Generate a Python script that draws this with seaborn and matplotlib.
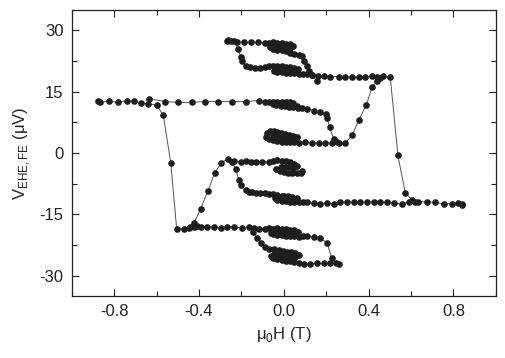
import numpy as np
import pandas as pd
import seaborn as sns
import matplotlib.pyplot as plt
from matplotlib.ticker import MultipleLocator

# ---- data (field in T, voltage in uV) ----
# P1: +12.6 branch from negative field, switch at -0.55 T, bottom minor loop
p1_x = [-0.875, -0.866, -0.824, -0.781, -0.74, -0.706, -0.675, -0.64, -0.60, -0.568, -0.533, -0.505,
        -0.471, -0.447, -0.424, -0.408, -0.392, -0.361, -0.33, -0.298, -0.267, -0.235, -0.196, -0.165,
        -0.141, -0.115, -0.09, -0.07, -0.05, -0.03, -0.01, 0.01, 0.03, 0.05, 0.065, 0.055, 0.035, 0.015,
        -0.005, -0.025, -0.045, -0.06, -0.05, -0.03, -0.01, 0.01, 0.03, 0.05, 0.07, 0.09, 0.11, 0.141,
        0.172, 0.204, 0.227, 0.245, 0.259,
        0.22, 0.19, 0.157, 0.125, 0.094, 0.07, 0.05, 0.03, 0.01, -0.01, -0.03, -0.05, -0.06, -0.045,
        -0.025, -0.005, 0.015, 0.035, 0.055, 0.07, 0.055, 0.035, 0.015, -0.005, -0.025, -0.045, -0.07,
        -0.09, -0.106, -0.125, -0.145]
p1_y = [12.85, 12.4, 12.7, 12.4, 12.85, 12.7, 12.3, 12.0, 11.8, 9.2, -2.4, -18.6,
        -18.5, -18.3, -18.0, -17.9, -18.0, -18.0, -18.1, -18.3, -18.0, -18.1, -18.3, -18.1,
        -18.3, -18.5, -18.5, -18.4, -18.5, -18.4, -18.6, -18.7, -18.8, -18.9, -19.3, -19.6, -19.5, -19.4,
        -19.3, -19.2, -19.2, -19.5, -19.9, -20.0, -20.1, -20.2, -20.3, -20.4, -20.5, -20.4, -20.3, -20.5,
        -20.7, -22.1, -25.8, -26.8, -27.2,
        -27.0, -27.0, -27.0, -27.1, -27.1, -26.9, -26.7, -26.5, -26.3, -26.1, -25.9, -25.6, -25.1, -24.8,
        -24.9, -25.0, -25.1, -25.2, -25.4, -25.0, -24.5, -24.3, -24.1, -24.0, -23.8, -23.6, -23.4,
        -22.9, -22.0, -20.8, -19.3]

# P2a: rise from the -18.6 branch and upper minor loops near -2
p2a_x = [-0.44, -0.424, -0.392, -0.358, -0.326, -0.295, -0.264, -0.235, -0.204, -0.18, -0.157, -0.133,
         -0.102, -0.071, -0.05, -0.03, -0.01, 0.01, 0.03, 0.05, 0.06, 0.045, 0.025, 0.005, -0.015,
         -0.035, -0.02, 0.0, 0.02, 0.04, 0.06, 0.08, 0.087]
p2a_y = [-18.2, -17.2, -13.6, -9.3, -4.9, -2.4, -1.4, -2.0, -2.1, -2.0, -2.2, -2.1,
         -2.2, -2.1, -2.0, -1.8, -1.9, -2.0, -2.2, -2.6, -3.2, -3.6, -3.4, -3.3, -3.5,
         -3.9, -4.4, -4.7, -4.9, -5.0, -5.0, -4.8, -4.3]

# P2b: drop to -10, lower minor loops and the -12.4 branch to high field
p2b_x = [-0.245, -0.227, -0.212, -0.2, -0.18, -0.166, -0.15, -0.13, -0.11, -0.09, -0.07, -0.05, -0.03,
         -0.01, 0.01, 0.03, 0.05, 0.06, 0.04, 0.02, 0.0, -0.02, -0.04, -0.03, -0.01, 0.01, 0.03, 0.05,
         0.07, 0.09, 0.11, 0.141, 0.172, 0.204, 0.235, 0.266, 0.298, 0.33, 0.361, 0.392, 0.424, 0.455,
         0.486, 0.52, 0.557, 0.59, 0.635, 0.675, 0.714, 0.753, 0.792, 0.82, 0.839, 0.839]
p2b_y = [-2.3, -3.8, -6.7, -7.9, -9.1, -9.5, -9.6, -9.7, -9.8, -9.9, -10.0, -10.1, -10.3,
         -10.5, -10.8, -11.1, -11.4, -11.0, -10.7, -10.6, -10.6, -10.8, -11.1, -11.5, -11.7, -11.8, -11.9, -12.0,
         -12.1, -12.1, -12.1, -12.3, -12.5, -12.2, -12.4, -12.1, -11.9, -12.0, -12.1, -12.0, -11.9, -12.0,
         -12.1, -12.3, -12.4, -12.0, -11.9, -11.9, -12.1, -12.4, -12.4, -12.2, -12.4, -12.8]

# P3: switch at +0.52 T, +18.5 branch and top minor loop
p3_x = [0.62, 0.604, 0.573, 0.538, 0.502, 0.47, 0.44, 0.416, 0.385, 0.353, 0.322, 0.29, 0.259, 0.22,
        0.188, 0.16, 0.133, 0.11, 0.09, 0.07, 0.05, 0.03, 0.01, -0.01, -0.03, -0.045, -0.03, -0.01, 0.01,
        0.03, 0.05, 0.065, 0.05, 0.03, 0.01, -0.01, -0.03, -0.05, -0.07, -0.09, -0.11, -0.135, -0.16,
        -0.18, -0.195, -0.204, -0.215, -0.235, -0.262, -0.267, -0.251, -0.22, -0.188, -0.157, -0.121,
        -0.09, -0.07, -0.05, -0.03, -0.01, 0.01, 0.03, 0.045, 0.03, 0.01, -0.01, -0.03, -0.05, -0.065,
        -0.05, -0.03, -0.01, 0.01, 0.03, 0.05, 0.07, 0.085, 0.094, 0.108, 0.118, 0.133, 0.157]
p3_y = [-12.0, -11.4, -9.9, -0.6, 18.5, 18.8, 18.5, 18.9, 18.6, 18.6, 18.6, 18.6, 18.7, 18.7,
        18.8, 18.9, 19.2, 19.3, 19.3, 19.4, 19.5, 19.6, 19.7, 19.8, 19.9, 20.2, 20.5, 20.4, 20.3,
        20.3, 20.2, 20.5, 20.9, 21.0, 21.1, 21.2, 21.3, 21.3, 21.2, 21.0, 20.9, 20.9, 21.0,
        21.3, 22.6, 23.5, 25.5, 27.3, 27.6, 27.5, 27.3, 27.1, 27.1, 27.1, 27.1,
        26.9, 27.0, 27.1, 27.0, 26.9, 26.8, 26.6, 26.2, 25.8, 25.9, 26.0, 26.1, 26.2, 25.9,
        25.5, 25.3, 25.1, 24.9, 24.6, 24.3, 24.1, 23.8, 22.6, 21.2, 20.2, 19.0, 17.6]

# P4a: fall from +18.5 branch down to +2.5 and the minor loops there
p4a_x = [0.455, 0.44, 0.416, 0.389, 0.353, 0.322, 0.29, 0.259, 0.227, 0.196, 0.165, 0.133, 0.102,
         0.071, 0.05, 0.03, 0.01, -0.01, -0.03, -0.05, -0.07, -0.085, -0.08, -0.065, -0.045, -0.03,
         -0.015, 0.005, 0.025, 0.045, 0.06, 0.045, 0.025, 0.005, -0.015, -0.035, -0.05]
p4a_y = [18.3, 17.7, 16.1, 11.8, 8.0, 4.3, 2.5, 2.5, 2.4, 2.5, 2.4, 2.5, 2.7,
         2.5, 2.6, 2.6, 2.7, 2.8, 2.9, 3.1, 3.4, 4.0, 4.8, 5.3, 5.4, 5.2,
         4.8, 4.6, 4.4, 4.2, 3.9, 3.6, 3.6, 3.7, 3.8, 4.0, 4.4]

# P4b: rise back to +10, upper minor loops and the +12.6 branch to negative field
p4b_x = [0.25, 0.235, 0.216, 0.204, 0.2, 0.169, 0.141, 0.11, 0.085, 0.065, 0.045, 0.025, 0.005, -0.015,
         -0.035, -0.05, -0.035, -0.015, 0.005, 0.025, 0.045, 0.06, 0.045, 0.03, 0.01, -0.01, -0.03, -0.05,
         -0.07, -0.09, -0.118, -0.18, -0.243, -0.309, -0.371, -0.434, -0.498, -0.561, -0.635]
p4b_y = [2.6, 3.5, 6.3, 8.6, 9.6, 10.0, 10.4, 10.8, 11.0, 11.1, 11.2, 11.3, 11.4, 11.5,
         11.7, 12.0, 12.3, 12.2, 12.0, 11.9, 11.8, 11.6, 12.3, 12.4, 12.5, 12.6, 12.6, 12.6,
         12.6, 12.5, 12.85, 12.6, 12.6, 12.6, 12.6, 12.4, 12.4, 12.6, 13.3]

traces = [(p1_x, p1_y), (p2a_x, p2a_y), (p2b_x, p2b_y), (p3_x, p3_y), (p4a_x, p4a_y), (p4b_x, p4b_y)]

sns.set_style("ticks")
plt.rcParams['font.family'] = ['Liberation Sans', 'DejaVu Sans']
plt.rcParams['mathtext.fontset'] = 'custom'
plt.rcParams['mathtext.rm'] = 'Liberation Sans'

fig = plt.figure(figsize=(5.05, 3.58), dpi=100)
ax = fig.add_axes([0.142, 0.173, 0.840, 0.799])

for xs, ys in traces:
    df = pd.DataFrame({"H": xs, "V": ys})
    sns.lineplot(data=df, x="H", y="V", sort=False, estimator=None, ax=ax,
                 color="#555555", linewidth=0.7, marker="o", markersize=4.8,
                 markerfacecolor="#1e1e1e", markeredgecolor="#1e1e1e", markeredgewidth=0)

ax.set_xlim(-1.0, 1.0)
ax.set_ylim(-35, 35)
ax.xaxis.set_minor_locator(MultipleLocator(0.2))
ax.yaxis.set_minor_locator(MultipleLocator(7.5))
ax.set_xticks([-0.8, -0.4, 0.0, 0.4, 0.8])
ax.set_xticklabels(["-0.8", "-0.4", "0.0", "0.4", "0.8"])
ax.set_yticks([-30, -15, 0, 15, 30])
ax.set_yticklabels(["-30", "-15", "0", "15", "30"])
ax.tick_params(which="both", direction="in", top=True, right=True, width=0.8, colors="#222222",
               labelsize=12, labelcolor="#222222")
ax.tick_params(which="major", length=5, pad=6)
ax.tick_params(which="minor", length=3.5)
for s in ax.spines.values():
    s.set_linewidth(0.9)
    s.set_color("#222222")

ax.set_xlabel("μ$_{\\mathrm{0}}$H (T)", fontsize=12, color="#222222", labelpad=4)
ax.set_ylabel("V$_{\\mathrm{EHE,FE}}$ (μV)", fontsize=12, color="#222222", labelpad=5)

fig.savefig("out.png", dpi=100)
